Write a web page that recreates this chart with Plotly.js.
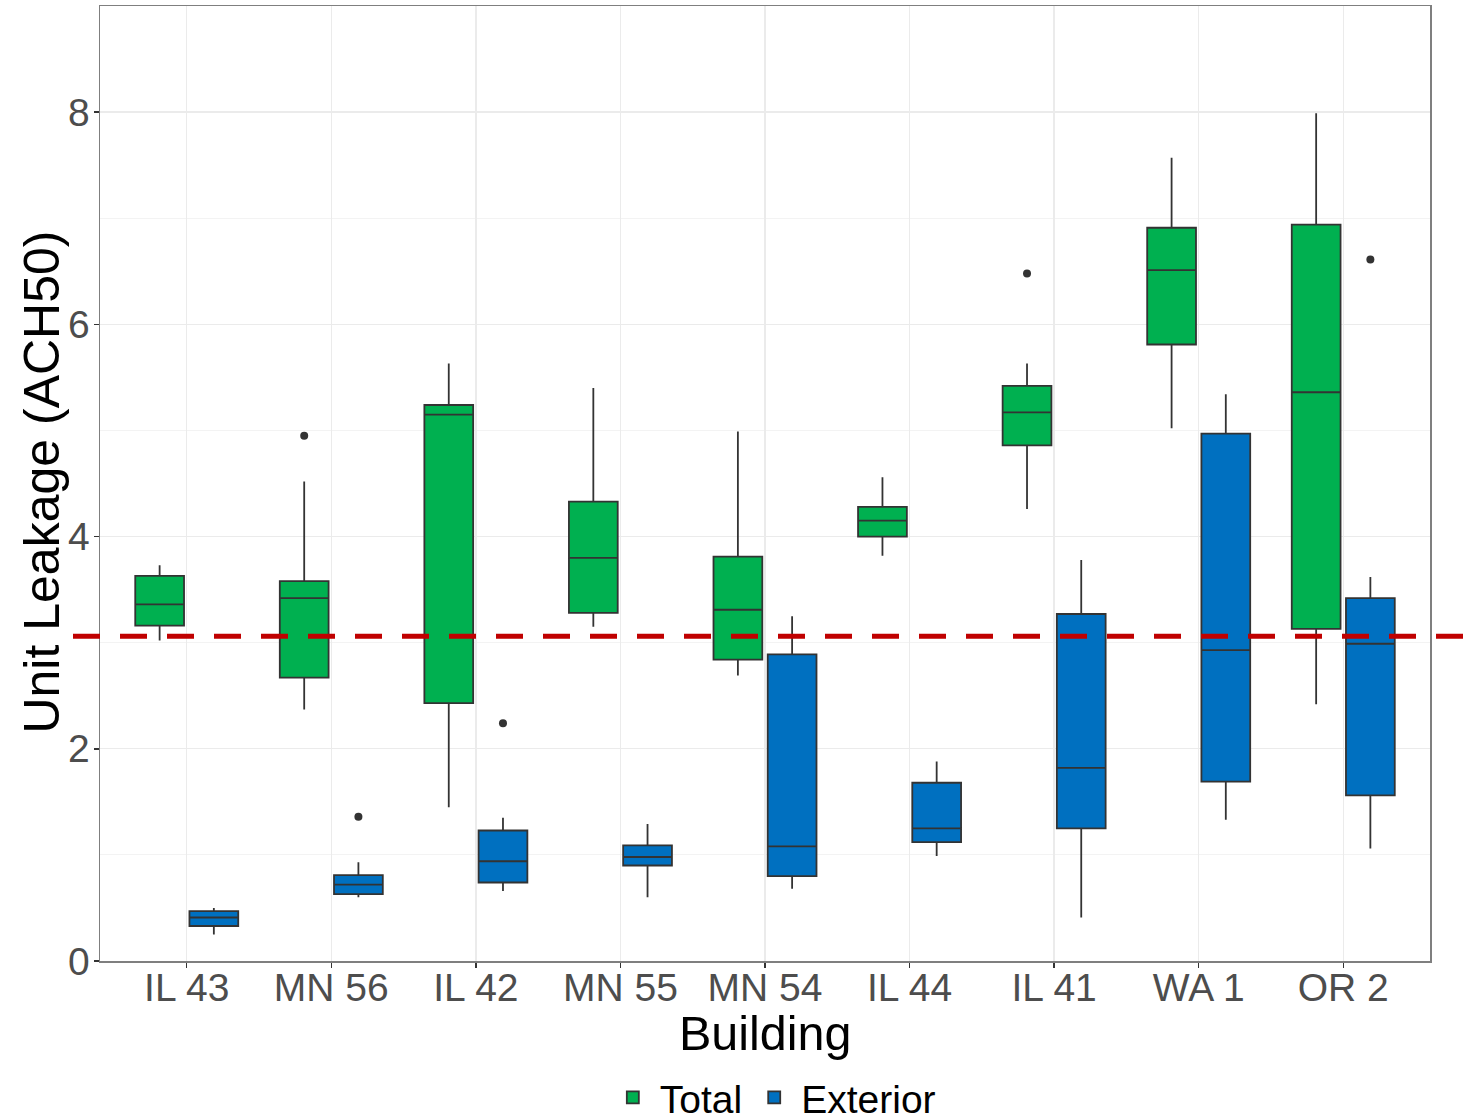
<!DOCTYPE html>
<html>
<head>
<meta charset="utf-8">
<script src="https://cdn.plot.ly/plotly-3.0.1.min.js"></script>
<style>html,body{margin:0;padding:0;background:#fff;}#chart{width:1473px;height:1120px;}</style>
</head>
<body>
<div id="chart"></div>
<script>
const buildings = ['IL 43','MN 56','IL 42','MN 55','MN 54','IL 44','IL 41','WA 1','OR 2'];

const totalQ1     = [3.16, 2.67, 2.43, 3.28, 2.84, 4.00, 4.86, 5.81, 3.13];
const totalMedian = [3.36, 3.42, 5.15, 3.80, 3.31, 4.15, 5.17, 6.51, 5.36];
const totalQ3     = [3.63, 3.58, 5.24, 4.33, 3.81, 4.28, 5.42, 6.91, 6.94];
const totalLow    = [3.02, 2.37, 1.45, 3.15, 2.69, 3.82, 4.26, 5.02, 2.42];
const totalHigh   = [3.73, 4.52, 5.63, 5.40, 4.99, 4.56, 5.63, 7.57, 7.99];
const totalOutlierBuildings = ['MN 56', 'IL 41'];
const totalOutlierValues    = [4.95, 6.48];

const extQ1     = [0.33, 0.63, 0.74, 0.90, 0.80, 1.12, 1.25, 1.69, 1.56];
const extMedian = [0.41, 0.72, 0.94, 0.98, 1.08, 1.25, 1.82, 2.93, 2.99];
const extQ3     = [0.47, 0.81, 1.23, 1.09, 2.89, 1.68, 3.27, 4.97, 3.42];
const extLow    = [0.25, 0.60, 0.66, 0.60, 0.68, 0.99, 0.41, 1.33, 1.06];
const extHigh   = [0.50, 0.93, 1.35, 1.29, 3.25, 1.88, 3.78, 5.34, 3.62];
const extOutlierBuildings = ['MN 56', 'IL 42', 'OR 2'];
const extOutlierValues    = [1.36, 2.24, 6.61];

const targetLevel = 3.06;

const fontFam = 'Liberation Sans, Arial, Helvetica, sans-serif';

function boxTrace(name, q1, med, q3, lo, hi, color, grp) {
  return {
    type: 'box', name: name, x: buildings, offsetgroup: grp,
    q1: q1, median: med, q3: q3, lowerfence: lo, upperfence: hi,
    boxpoints: false,
    fillcolor: color,
    line: {color: '#333333', width: 1.8},
    whiskerwidth: 0,
    hoverinfo: 'skip'
  };
}
function outlierTrace(name, xs, ys, grp) {
  return {
    type: 'scatter', mode: 'markers', name: name + ' outliers', x: xs, y: ys,
    offsetgroup: grp, showlegend: false,
    marker: {color: '#333333', size: 8, line: {width: 0}},
    hoverinfo: 'skip'
  };
}

const data = [
  boxTrace('Total', totalQ1, totalMedian, totalQ3, totalLow, totalHigh, '#00B050', 'g1'),
  boxTrace('Exterior', extQ1, extMedian, extQ3, extLow, extHigh, '#0070C0', 'g2'),
  outlierTrace('Total', totalOutlierBuildings, totalOutlierValues, 'g1'),
  outlierTrace('Exterior', extOutlierBuildings, extOutlierValues, 'g2')
];

const layout = {
  width: 1473, height: 1120,
  margin: {l: 100, r: 43, t: 6, b: 159, autoexpand: false},
  paper_bgcolor: '#ffffff', plot_bgcolor: '#ffffff',
  font: {family: fontFam, color: '#4D4D4D', size: 39},
  boxmode: 'group', boxgap: 0.25, boxgroupgap: 0.1,
  scattermode: 'group', scattergap: 0.25,
  showlegend: true,
  legend: {orientation: 'h', xref: 'container', yref: 'container',
           x: 0.525, xanchor: 'center', y: 0.02, yanchor: 'middle',
           itemwidth: 44,
           font: {size: 39, color: '#000000'}, bgcolor: 'rgba(0,0,0,0)'},
  xaxis: {
    type: 'category', categoryorder: 'array', categoryarray: buildings, range: [-0.6, 8.6],
    showgrid: true, gridcolor: '#EBEBEB', gridwidth: 1.3,
    showline: true, linecolor: '#7F7F7F', linewidth: 1.5, mirror: true,
    ticks: 'outside', ticklen: 5, tickcolor: '#333333', tickwidth: 1.5,
    tickfont: {size: 39, color: '#4D4D4D'}, ticklabelstandoff: -13,
    zeroline: false
  },
  yaxis: {
    range: [0, 9], dtick: 2, tick0: 0,
    showgrid: true, gridcolor: '#EBEBEB', gridwidth: 1.3,
    minor: {dtick: 1, showgrid: true, gridcolor: '#F3F3F3', gridwidth: 1, ticklen: 0},
    showline: true, linecolor: '#7F7F7F', linewidth: 1.5, mirror: true,
    ticks: 'outside', ticklen: 5, tickcolor: '#333333', tickwidth: 1.5,
    tickfont: {size: 39, color: '#4D4D4D'}, ticklabelstandoff: -4,
    zeroline: false
  },
  annotations: [
    {text: 'Building', xref: 'paper', yref: 'paper', x: 0.5, y: -0.075,
     xanchor: 'center', yanchor: 'middle', showarrow: false,
     font: {size: 48.5, color: '#000000', family: fontFam}},
    {text: 'Unit Leakage (ACH50)', xref: 'paper', yref: 'paper', x: -0.0436, y: 0.501,
     xanchor: 'center', yanchor: 'middle', textangle: -90, showarrow: false,
     font: {size: 50, color: '#000000', family: fontFam}}
  ],
  shapes: [{
    type: 'line', xref: 'paper', yref: 'y',
    x0: -0.0203, x1: 1.0263, y0: targetLevel, y1: targetLevel,
    line: {color: '#C00000', width: 5, dash: '27px,20px'},
    layer: 'above'
  }]
};

Plotly.newPlot('chart', data, layout, {staticPlot: true, displayModeBar: false});
</script>
</body>
</html>
